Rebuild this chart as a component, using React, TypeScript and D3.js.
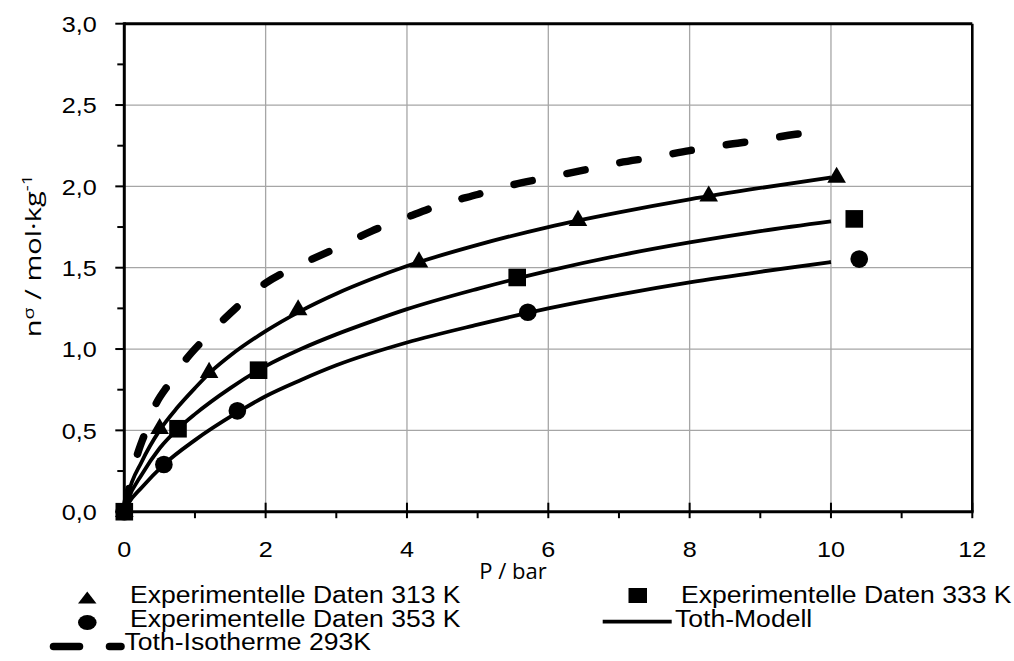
import React from "react";
import * as d3 from "d3";

// ---- data ----
const xTicks = [0, 2, 4, 6, 8, 10, 12];
const yTicks = [0, 0.5, 1.0, 1.5, 2.0, 2.5, 3.0];

const exp313P = [0, 0.5, 1.2, 2.46, 4.17, 6.42, 8.27, 10.08];
const exp313N = [0, 0.51, 0.855, 1.24, 1.535, 1.79, 1.94, 2.055];
const exp333P = [0.76, 1.9, 5.56, 10.33, 0];
const exp333N = [0.51, 0.87, 1.44, 1.8, 0];
const exp353P = [0, 0.56, 1.6, 5.71, 10.4];
const exp353N = [0, 0.29, 0.62, 1.226, 1.553];

const toth313P = [0, 0.05, 0.25, 0.5, 0.75, 1, 1.25, 1.5, 2, 2.5, 3, 3.5, 4, 5, 6, 7, 8, 9, 10];
const toth313N = [0, 0.1, 0.31, 0.5, 0.64, 0.76, 0.87, 0.96, 1.11, 1.235, 1.34, 1.43, 1.51, 1.64, 1.75, 1.84, 1.92, 1.99, 2.055];
const toth333P = [0, 0.05, 0.25, 0.5, 0.76, 1, 1.5, 2, 2.5, 3, 3.5, 4, 5, 6, 7, 8, 9, 10];
const toth333N = [0, 0.07, 0.23, 0.39, 0.51, 0.6, 0.76, 0.895, 1.0, 1.09, 1.17, 1.245, 1.37, 1.48, 1.575, 1.655, 1.725, 1.785];
const toth353P = [0, 0.05, 0.25, 0.56, 1, 1.6, 2, 2.5, 3, 4, 5, 6, 7, 8, 9, 10];
const toth353N = [0, 0.045, 0.15, 0.29, 0.44, 0.61, 0.71, 0.81, 0.9, 1.04, 1.15, 1.25, 1.335, 1.41, 1.475, 1.535];
const toth293P = [0, 0.17, 0.29, 0.43, 0.64, 0.88, 1.13, 1.5, 2, 2.5, 3, 3.5, 4, 4.5, 5, 5.5, 6, 6.5, 7, 7.5, 8, 8.5, 9, 9.5, 10];
const toth293N = [0, 0.33, 0.48, 0.645, 0.79, 0.94, 1.06, 1.22, 1.405, 1.52, 1.62, 1.725, 1.81, 1.89, 1.95, 2.01, 2.055, 2.1, 2.145, 2.18, 2.22, 2.255, 2.285, 2.32, 2.34];

const legendLabels = [
  "Experimentelle Daten 313 K",
  "Experimentelle Daten 333 K",
  "Experimentelle Daten 353 K",
  "Toth-Modell",
  "Toth-Isotherme 293K",
];

const ARIAL = "'Liberation Sans', Arial, sans-serif";
const OPEN = "'Open Sans', 'Liberation Sans', sans-serif";

function zip(a: number[], b: number[]): [number, number][] {
  return a.map((v, i) => [v, b[i]]);
}

const ST = ({ x, y, sx, anchor, size, family, children }: any) => (
  <text
    transform={`translate(${x},${y}) scale(${sx},1)`}
    textAnchor={anchor || "start"}
    fontSize={size}
    fontFamily={family}
    fill="#000"
  >
    {children}
  </text>
);

export default function App() {
  const W = 1014, H = 661;
  const x = d3.scaleLinear().domain([0, 12]).range([124.3, 972.3]);
  const y = d3.scaleLinear().domain([0, 3]).range([511.7, 23.7]);

  const line = d3
    .line<[number, number]>()
    .x((d) => x(d[0]))
    .y((d) => y(d[1]))
    .curve(d3.curveMonotoneX);

  const tri = d3.symbol().type(d3.symbolTriangle).size(150)() as string;
  const sq = d3.symbol().type(d3.symbolSquare).size(310)() as string;
  const circ = d3.symbol().type(d3.symbolCircle).size(245)() as string;

  const minorY = d3.range(0.25, 3.0, 0.5);
  const minorX = d3.range(1, 12, 2);
  const grid = "#a6a6a6";

  return (
    <svg width={W} height={H} style={{ position: "absolute", left: 0, top: 0 }}>
      <rect width={W} height={H} fill="#fff" />
      {/* grid */}
      {yTicks.filter((t) => t > 0 && t < 3).map((t) => (
        <line key={"gy" + t} x1={x(0)} x2={x(12)} y1={y(t)} y2={y(t)} stroke={grid} strokeWidth={1.3} />
      ))}
      {xTicks.filter((t) => t > 0 && t < 12).map((t) => (
        <line key={"gx" + t} x1={x(t)} x2={x(t)} y1={y(0)} y2={y(3)} stroke={grid} strokeWidth={1.3} />
      ))}

      {/* model lines */}
      <path d={line(zip(toth293P, toth293N)) as string} fill="none" stroke="#000" strokeWidth={7.5}
        strokeDasharray="18.5 35.5" strokeDashoffset={-5} strokeLinecap="round" />
      {[zip(toth313P, toth313N), zip(toth333P, toth333N), zip(toth353P, toth353N)].map((s, i) => (
        <path key={"m" + i} d={line(s) as string} fill="none" stroke="#000" strokeWidth={3.8} />
      ))}

      {/* markers */}
      {zip(exp353P, exp353N).map((d, i) => (
        <path key={"c" + i} d={circ} transform={`translate(${x(d[0])},${y(d[1])})`} fill="#000" />
      ))}
      {zip(exp313P, exp313N).map((d, i) => (
        <path key={"t" + i} d={tri} transform={`translate(${x(d[0])},${y(d[1])})`} fill="#000" />
      ))}
      {zip(exp333P, exp333N).map((d, i) => (
        <path key={"s" + i} d={sq} transform={`translate(${x(d[0])},${y(d[1])})`} fill="#000" />
      ))}

      {/* axes / frame */}
      <line x1={x(0)} x2={x(12)} y1={y(3)} y2={y(3)} stroke="#000" strokeWidth={3} />
      <line x1={x(12)} x2={x(12)} y1={y(0)} y2={y(3)} stroke="#000" strokeWidth={2.6} />
      <line x1={x(0)} x2={x(0)} y1={y(0)} y2={y(3) - 1.5} stroke="#000" strokeWidth={3} />
      <line x1={x(0) - 1.5} x2={x(12) + 1.3} y1={y(0)} y2={y(0)} stroke="#000" strokeWidth={3} />
      {yTicks.map((t) => (
        <line key={"ty" + t} x1={x(0) - 9} x2={x(0)} y1={y(t)} y2={y(t)} stroke="#000" strokeWidth={2} />
      ))}
      {minorY.map((t) => (
        <line key={"tmy" + t} x1={x(0) - 7} x2={x(0)} y1={y(t)} y2={y(t)} stroke="#000" strokeWidth={2} />
      ))}
      {xTicks.map((t) => (
        <line key={"tx" + t} x1={x(t)} x2={x(t)} y1={y(0) - 9} y2={y(0) + 6.5} stroke="#000" strokeWidth={2} />
      ))}
      {minorX.map((t) => (
        <line key={"tmx" + t} x1={x(t)} x2={x(t)} y1={y(0)} y2={y(0) + 6.5} stroke="#000" strokeWidth={2} />
      ))}

      {/* tick labels */}
      {yTicks.map((t) => (
        <ST key={"ly" + t} x={96.7} y={y(t) + 8.2} sx={1.12} anchor="end" size={22.5} family={ARIAL}>
          {d3.format(".1f")(t).replace(".", ",")}
        </ST>
      ))}
      {xTicks.map((t) => (
        <ST key={"lx" + t} x={x(t)} y={556.5} sx={1.12} anchor="middle" size={22.5} family={ARIAL}>
          {String(t)}
        </ST>
      ))}

      {/* axis titles */}
      <text x={513} y={578.5} textAnchor="middle" fontSize={22} fontFamily={OPEN}>P / bar</text>
      <g transform="translate(40.5,256) rotate(-90) scale(1.32,1)">
        <text x={0} y={0} textAnchor="middle" fontSize={22} fontFamily={OPEN}>
          n<tspan dy={-7} fontSize={15}>σ</tspan><tspan dy={7}> / mol·kg</tspan>
          <tspan dy={-9} fontSize={14}>-1</tspan>
        </text>
      </g>

      {/* legend */}
      <path d="M78,603.5 L96.5,603.5 L87.25,591.5 Z" fill="#000" />
      <ST x={130} y={603.3} sx={1.13} size={23.5} family={ARIAL}>{legendLabels[0]}</ST>
      <rect x={628.5} y={588} width={18.5} height={15} fill="#000" />
      <ST x={681} y={603.3} sx={1.13} size={23.5} family={ARIAL}>{legendLabels[1]}</ST>
      <ellipse cx={87.3} cy={622.5} rx={9.3} ry={7.6} fill="#000" />
      <ST x={130} y={626.8} sx={1.13} size={23.5} family={ARIAL}>{legendLabels[2]}</ST>
      <line x1={602.7} x2={671.7} y1={621.7} y2={621.7} stroke="#000" strokeWidth={3.8} />
      <ST x={675} y={626.8} sx={1.13} size={23.5} family={ARIAL}>{legendLabels[3]}</ST>
      <line x1={53.5} x2={79.5} y1={646.5} y2={646.5} stroke="#000" strokeWidth={7.5} strokeLinecap="round" />
      <line x1={109.5} x2={121} y1={646.5} y2={646.5} stroke="#000" strokeWidth={7.5} strokeLinecap="round" />
      <ST x={124.5} y={650.3} sx={1.13} size={23.5} family={ARIAL}>{legendLabels[4]}</ST>
    </svg>
  );
}
